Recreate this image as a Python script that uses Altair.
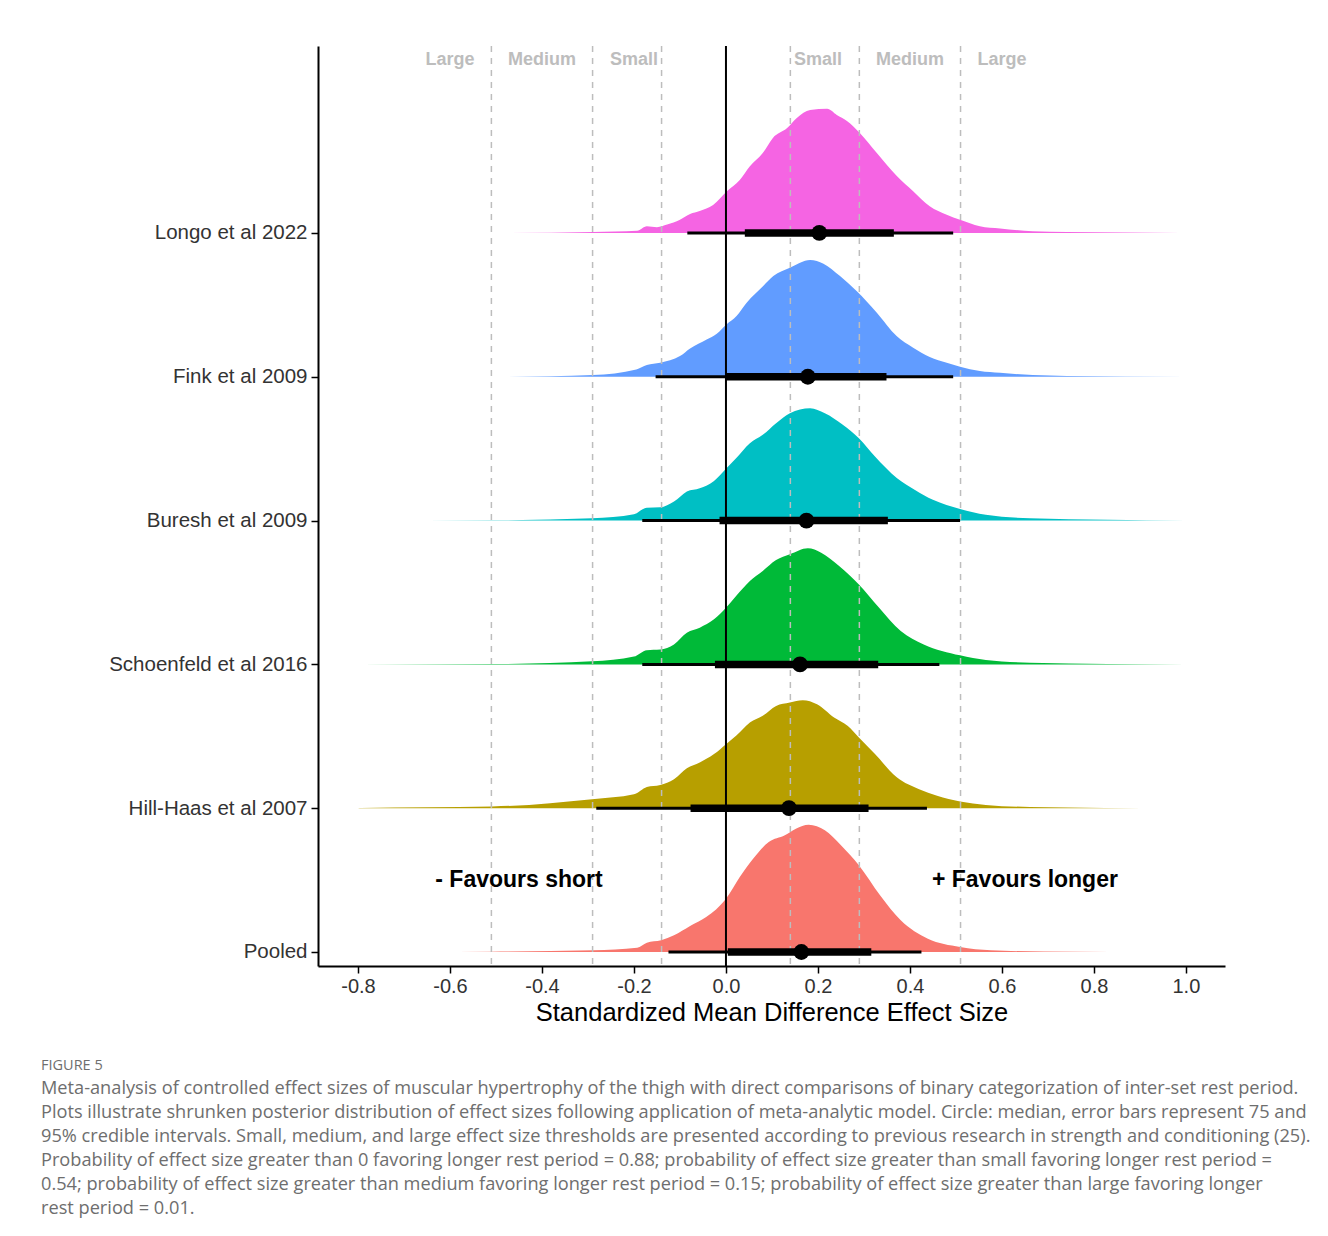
import altair as alt
import pandas as pd

# ---------------- data ----------------
studies = ["Pooled", "Hill-Haas et al 2007", "Schoenfeld et al 2016",
           "Buresh et al 2009", "Fink et al 2009", "Longo et al 2022"]
rows = [1, 2, 3, 4, 5, 6]
colors = ["#F8766D", "#B79F00", "#00BA38", "#00BFC4", "#619CFF", "#F564E3"]

# posterior densities (x = effect size, h = ridge height in row units)
pooled_x = [-0.654, -0.511, -0.289, -0.193, -0.172, -0.141, -0.113, -0.078, -0.043, 0.0,
            0.030, 0.059, 0.093, 0.128, 0.152, 0.180, 0.215, 0.250, 0.289, 0.335,
            0.380, 0.439, 0.509, 0.576, 0.691, 0.835]
pooled_h = [0.0, 0.002, 0.012, 0.030, 0.065, 0.081, 0.116, 0.181, 0.243, 0.371,
            0.522, 0.649, 0.765, 0.812, 0.857, 0.885, 0.846, 0.742, 0.603, 0.394,
            0.220, 0.092, 0.035, 0.012, 0.003, 0.0]

hillhaas_x = [-0.800, -0.793, -0.509, -0.291, -0.200, -0.172, -0.143, -0.113, -0.085, -0.057,
              -0.026, 0.0, 0.022, 0.052, 0.080, 0.109, 0.139, 0.167, 0.198, 0.235,
              0.265, 0.289, 0.324, 0.372, 0.420, 0.459, 0.509, 0.565, 0.661, 0.987]
hillhaas_h = [0.0, 0.002, 0.012, 0.063, 0.097, 0.148, 0.162, 0.202, 0.278, 0.318,
              0.376, 0.445, 0.503, 0.596, 0.642, 0.711, 0.735, 0.751, 0.723, 0.631,
              0.572, 0.492, 0.376, 0.213, 0.132, 0.086, 0.047, 0.023, 0.009, 0.0]

schoenfeld_x = [-0.793, -0.509, -0.291, -0.200, -0.172, -0.143, -0.113, -0.085, -0.057, -0.026,
                0.0, 0.022, 0.052, 0.080, 0.109, 0.139, 0.178, 0.207, 0.246, 0.289,
                0.333, 0.380, 0.430, 0.509, 0.565, 0.661, 0.998]
schoenfeld_h = [0.0, 0.002, 0.021, 0.054, 0.099, 0.104, 0.139, 0.220, 0.255, 0.313,
                0.394, 0.475, 0.579, 0.649, 0.725, 0.765, 0.807, 0.777, 0.684, 0.556,
                0.394, 0.232, 0.139, 0.063, 0.030, 0.012, 0.0]

buresh_x = [-0.793, -0.509, -0.291, -0.200, -0.172, -0.143, -0.113, -0.085, -0.057, -0.026,
            0.0, 0.022, 0.052, 0.080, 0.109, 0.139, 0.183, 0.215, 0.254, 0.289,
            0.324, 0.372, 0.411, 0.450, 0.509, 0.565, 0.661, 1.0]
buresh_h = [0.0, 0.002, 0.016, 0.044, 0.090, 0.092, 0.132, 0.202, 0.225, 0.276,
            0.360, 0.433, 0.538, 0.596, 0.677, 0.746, 0.781, 0.746, 0.666, 0.572,
            0.445, 0.294, 0.213, 0.144, 0.081, 0.040, 0.016, 0.0]

fink_x = [-0.480, -0.289, -0.195, -0.172, -0.143, -0.100, -0.078, -0.042, -0.020, 0.001,
          0.023, 0.045, 0.081, 0.103, 0.139, 0.183, 0.212, 0.248, 0.284, 0.328,
          0.371, 0.407, 0.443, 0.480, 0.509, 0.552, 0.596, 0.667, 0.741, 0.998]
fink_h = [0.0, 0.012, 0.051, 0.081, 0.097, 0.144, 0.197, 0.259, 0.299, 0.364,
          0.422, 0.515, 0.631, 0.700, 0.758, 0.812, 0.786, 0.700, 0.596, 0.445,
          0.283, 0.202, 0.137, 0.097, 0.070, 0.040, 0.028, 0.012, 0.006, 0.0]

longo_x = [-0.470, -0.289, -0.193, -0.172, -0.150, -0.128, -0.100, -0.078, -0.057, -0.028,
           0.002, 0.030, 0.052, 0.080, 0.102, 0.133, 0.154, 0.183, 0.220, 0.241,
           0.263, 0.291, 0.328, 0.372, 0.407, 0.443, 0.480, 0.509, 0.552, 0.596,
           0.667, 0.741, 0.987]
longo_h = [0.0, 0.007, 0.016, 0.047, 0.040, 0.058, 0.092, 0.132, 0.153, 0.195,
           0.290, 0.369, 0.464, 0.556, 0.661, 0.730, 0.800, 0.855, 0.864, 0.821,
           0.779, 0.695, 0.556, 0.394, 0.290, 0.186, 0.127, 0.092, 0.047, 0.031,
           0.012, 0.006, 0.0]

dens_x = [pooled_x, hillhaas_x, schoenfeld_x, buresh_x, fink_x, longo_x]
dens_h = [pooled_h, hillhaas_h, schoenfeld_h, buresh_h, fink_h, longo_h]

# point summaries: median, 75% and 95% credible intervals
medians = [0.164, 0.137, 0.161, 0.175, 0.178, 0.203]
lo75 = [0.004, -0.077, -0.024, -0.014, 0.0, 0.041]
hi75 = [0.316, 0.310, 0.331, 0.352, 0.349, 0.365]
lo95 = [-0.125, -0.282, -0.182, -0.182, -0.153, -0.084]
hi95 = [0.425, 0.437, 0.464, 0.509, 0.494, 0.494]

thresholds = [-0.51, -0.29, -0.14, 0.14, 0.29, 0.51]
thr_label_x = [-0.6, -0.4, -0.2, 0.2, 0.4, 0.6]
thr_labels = ["Large", "Medium", "Small", "Small", "Medium", "Large"]
thr_label_y = 7.2

favour_x = [-0.45, 0.65]
favour_y = [1.5, 1.5]
favour_text = ["- Favours short", "+ Favours longer"]

x_ticks = [-0.8, -0.6, -0.4, -0.2, 0.0, 0.2, 0.4, 0.6, 0.8, 1.0]

caption_title = "FIGURE 5"
caption_lines = [
    "Meta-analysis of controlled effect sizes of muscular hypertrophy of the thigh with direct comparisons of binary categorization of inter-set rest period.",
    "Plots illustrate shrunken posterior distribution of effect sizes following application of meta-analytic model. Circle: median, error bars represent 75 and",
    "95% credible intervals. Small, medium, and large effect size thresholds are presented according to previous research in strength and conditioning (25).",
    "Probability of effect size greater than 0 favoring longer rest period = 0.88; probability of effect size greater than small favoring longer rest period =",
    "0.54; probability of effect size greater than medium favoring longer rest period = 0.15; probability of effect size greater than large favoring longer",
    "rest period = 0.01.",
]

# ---------------- tables ----------------
dens_records = []
for s, r, xs, hs in zip(studies, rows, dens_x, dens_h):
    for xv, hv in zip(xs, hs):
        dens_records.append({"study": s, "base": float(r), "es": xv, "ridge": r + hv})
dens_df = pd.DataFrame(dens_records)

sum_df = pd.DataFrame({"study": studies, "pos": rows, "med": medians,
                       "lo75": lo75, "hi75": hi75, "lo95": lo95, "hi95": hi95})
thr_df = pd.DataFrame({"t": thresholds})
thr_lab_df = pd.DataFrame({"lx": thr_label_x, "label": thr_labels,
                           "ly": [thr_label_y] * len(thr_labels)})
fav_df = pd.DataFrame({"fx": favour_x, "fy": favour_y, "label": favour_text})
zero_df = pd.DataFrame({"z": [0.0]})

XDOM = [-0.887, 1.085]
YDOM = [0.9026, 7.30]
FONT = "Liberation Sans"

xscale = alt.Scale(domain=XDOM, nice=False, zero=False)
yscale = alt.Scale(domain=YDOM, nice=False, zero=False)

label_array = "[" + ",".join(["''"] + ["'" + s + "'" for s in studies]) + "]"

x_axis = alt.Axis(values=x_ticks, title="Standardized Mean Difference Effect Size",
                  labelExpr="replace(format(datum.value, '.1f'), '\u2212', '-')",
                  grid=False)
y_axis = alt.Axis(values=rows, title=None, grid=False, labelLimit=400,
                  labelExpr=label_array + "[datum.value]",
                  minExtent=310, maxExtent=310)

areas = alt.Chart(dens_df).mark_area(interpolate="monotone").encode(
    x=alt.X("es:Q", scale=xscale, axis=x_axis),
    y=alt.Y("ridge:Q", scale=yscale, axis=y_axis),
    y2=alt.Y2("base:Q"),
    color=alt.Color("study:N", scale=alt.Scale(domain=studies, range=colors), legend=None),
)

dashed = alt.Chart(thr_df).mark_rule(color="#BDBDBD", strokeWidth=1.5, strokeDash=[6, 6]).encode(
    x=alt.X("t:Q", scale=xscale)
)
zero_line = alt.Chart(zero_df).mark_rule(color="black", strokeWidth=2).encode(
    x=alt.X("z:Q", scale=xscale)
)

thin = alt.Chart(sum_df).mark_rule(color="black", strokeWidth=3).encode(
    x=alt.X("lo95:Q", scale=xscale), x2="hi95:Q", y=alt.Y("pos:Q", scale=yscale)
)
thick = alt.Chart(sum_df).mark_rule(color="black", strokeWidth=7.5).encode(
    x=alt.X("lo75:Q", scale=xscale), x2="hi75:Q", y=alt.Y("pos:Q", scale=yscale)
)
pts = alt.Chart(sum_df).mark_circle(color="black", size=250, opacity=1).encode(
    x=alt.X("med:Q", scale=xscale), y=alt.Y("pos:Q", scale=yscale)
)

thr_text = alt.Chart(thr_lab_df).mark_text(font=FONT, fontSize=18, fontWeight="bold",
                                           color="#BDBDBD", align="center", baseline="middle").encode(
    x=alt.X("lx:Q", scale=xscale), y=alt.Y("ly:Q", scale=yscale), text="label:N"
)
fav_text = alt.Chart(fav_df).mark_text(font=FONT, fontSize=23, fontWeight="bold",
                                       color="black", align="center", baseline="middle").encode(
    x=alt.X("fx:Q", scale=xscale), y=alt.Y("fy:Q", scale=yscale), text="label:N"
)

chart = alt.layer(areas, dashed, zero_line, thin, thick, pts, thr_text, fav_text).properties(
    width=907, height=920,
    padding={"left": 0, "top": 37, "right": 5, "bottom": 5},
    title=alt.TitleParams(
        text=caption_title, subtitle=caption_lines, orient="bottom", anchor="start",
        frame="bounds", dx=33, offset=33, font="Open Sans", fontSize=14.5, fontWeight="normal",
        color="#6E6E6E", subtitleFont="Open Sans", subtitleFontSize=18.2, subtitleColor="#6E6E6E",
        subtitleLineHeight=24, subtitlePadding=7,
    ),
).configure_view(stroke=None).configure_axis(
    domainColor="black", domainWidth=2, tickColor="black", tickWidth=1.5, tickSize=7,
    labelFont=FONT, labelFontSize=20.5, labelColor="#333333", labelPadding=4,
    titleFont=FONT, titleFontSize=25.5, titleColor="black", titleFontWeight="normal",
).configure_axisX(titlePadding=4, labelPadding=3, labelFontSize=20)

chart.save("out.html", embed_options={"renderer": "svg", "actions": False})
